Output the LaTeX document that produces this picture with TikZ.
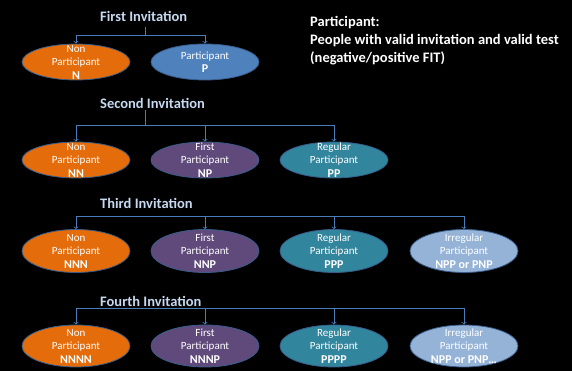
\documentclass[tikz,border=0pt]{standalone}
\usepackage{fontspec}
\setmainfont{Carlito}
\usepackage{tikz}
\usetikzlibrary{arrows, shapes.geometric, calc}

\definecolor{nonpart}{HTML}{E46C0A}
\definecolor{firstpart}{HTML}{604A7B}
\definecolor{regpart}{HTML}{31859C}
\definecolor{irregpart}{HTML}{95B3D7}
\definecolor{partblue}{HTML}{4F81BD}
\definecolor{rimblue}{HTML}{385D8A}
\definecolor{titleblue}{HTML}{C6D9F1}
\definecolor{linkblue}{HTML}{4A7EBB}

\begin{document}
\begin{tikzpicture}[x=1pt, y=-1pt,
    oval/.style={ellipse, draw=rimblue, line width=0.8pt, fill=#1, minimum width=108pt, minimum height=36pt, inner sep=0pt},
    ovaltext/.style={text=white, align=center, inner sep=0pt, font=\fontsize{11}{13.5}\selectfont},
    heading/.style={text=titleblue, anchor=west, inner sep=0pt, font=\fontsize{14.5}{16}\selectfont\bfseries},
    note/.style={text=white, align=left, anchor=west, inner sep=0pt, font=\fontsize{14.5}{18}\selectfont\bfseries},
    link/.style={draw=linkblue, line width=0.8pt},
    linkarrow/.style={link, ->, >=to}]
    \fill[black] (0,0) rectangle (572,371);
    \useasboundingbox (0,0) rectangle (572,371);

    % first invitation
    \node[heading] (inv1) at (100,16) {First Invitation};
    \coordinate (stem1) at (145,27);
    \coordinate (fork1) at (145,35);
    \node[oval=nonpart] (n) at (76,62) {};
    \node[ovaltext] (ntext) at (n) {Non\\Participant\\\textbf{\large N}};
    \node[oval=partblue] (p) at (205,62) {};
    \node[ovaltext] (ptext) at (p) {Participant\\\textbf{\large P}};
    \draw[link] (stem1) -- (fork1);
    \draw[linkarrow] (fork1) -| (n.north);
    \draw[linkarrow] (fork1) -| (p.north);

    \node[note] (def) at (310,41) {Participant:\\People with valid invitation and valid test\\(negative/positive FIT)};

    % second invitation
    \node[heading] (inv2) at (100,103) {Second Invitation};
    \coordinate (stem2) at (145,110);
    \coordinate (fork2) at (145,125);
    \node[oval=nonpart] (nn) at (76,160) {};
    \node[ovaltext] (nntext) at (nn) {Non\\Participant\\\textbf{\large NN}};
    \node[oval=firstpart] (np) at (205,160) {};
    \node[ovaltext] (nptext) at (np) {First\\Participant\\\textbf{\large NP}};
    \node[oval=regpart] (pp) at (334,160) {};
    \node[ovaltext] (pptext) at (pp) {Regular\\Participant\\\textbf{\large PP}};
    \draw[link] (stem2) -- (fork2);
    \draw[linkarrow] (fork2) -| (nn.north);
    \draw[linkarrow] (fork2) -| (np.north);
    \draw[linkarrow] (fork2) -| (pp.north);

    % third invitation
    \node[heading] (inv3) at (100,203) {Third Invitation};
    \coordinate (fork3) at (145,216);
    \node[oval=nonpart, minimum height=43pt] (nnn) at (76,251) {};
    \node[ovaltext] (nnntext) at (nnn) {Non\\Participant\\\textbf{\large NNN}};
    \node[oval=firstpart, minimum height=43pt] (nnp) at (205,251) {};
    \node[ovaltext] (nnptext) at (nnp) {First\\Participant\\\textbf{\large NNP}};
    \node[oval=regpart, minimum height=43pt] (ppp) at (334,251) {};
    \node[ovaltext] (ppptext) at (ppp) {Regular\\Participant\\\textbf{\large PPP}};
    \node[oval=irregpart, minimum height=43pt] (npp) at (464,251) {};
    \node[ovaltext] (npptext) at (npp) {Irregular\\Participant\\\textbf{\large NPP or PNP}};
    \draw[linkarrow] (fork3) -| (nnn.north);
    \draw[linkarrow] (fork3) -| (nnp.north);
    \draw[linkarrow] (fork3) -| (ppp.north);
    \draw[linkarrow] (fork3) -| (npp.north);

    % fourth invitation
    \node[heading] (inv4) at (100,301) {Fourth Invitation};
    \coordinate (fork4) at (145,308);
    \node[oval=nonpart, minimum height=42pt] (nnnn) at (76,346) {};
    \node[ovaltext] (nnnntext) at (nnnn) {Non\\Participant\\\textbf{\large NNNN}};
    \node[oval=firstpart, minimum height=42pt] (nnnp) at (205,346) {};
    \node[ovaltext] (nnnptext) at (nnnp) {First\\Participant\\\textbf{\large NNNP}};
    \node[oval=regpart, minimum height=42pt] (pppp) at (334,346) {};
    \node[ovaltext] (pppptext) at (pppp) {Regular\\Participant\\\textbf{\large PPPP}};
    \node[oval=irregpart, minimum height=42pt] (nppp) at (464,346) {};
    \node[ovaltext] (nppptext) at (nppp) {Irregular\\Participant\\\textbf{\large NPP or PNP\dots}};
    \draw[linkarrow] (fork4) -| (nnnn.north);
    \draw[linkarrow] (fork4) -| (nnnp.north);
    \draw[linkarrow] (fork4) -| (pppp.north);
    \draw[linkarrow] (fork4) -| (nppp.north);
\end{tikzpicture}
\end{document}
